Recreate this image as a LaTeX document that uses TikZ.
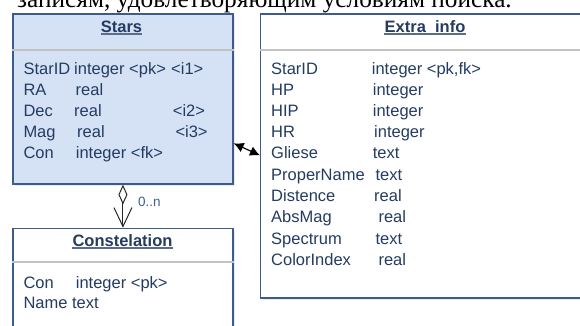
\documentclass[tikz,border=0pt]{standalone}
\usepackage{fontspec}
\setmainfont{Liberation Sans}
\newfontfamily\rufont{Liberation Serif}
\usetikzlibrary{arrows.meta,shadows}
\definecolor{textcol}{RGB}{36,60,98}
\definecolor{bordercol}{RGB}{60,92,138}
\definecolor{starfill}{RGB}{213,226,245}
\definecolor{multcol}{RGB}{60,96,148}
\newcommand\fieldfont{\fontsize{16.5}{20}\selectfont}
\newcommand\titlefont{\fontsize{16.5}{20}\selectfont\bfseries}
\tikzset{
  umlbox/.style={draw=bordercol, line width=1.3pt, rectangle, inner sep=0pt,
    anchor=north west, drop shadow={shadow xshift=2.5pt, shadow yshift=-2.5pt, fill=black!16}},
  fld/.style={anchor=base west, inner sep=0pt, text=textcol, font=\fieldfont},
  ttl/.style={anchor=base, inner sep=0pt, text=textcol, font=\titlefont},
  uline/.style={draw=textcol!75, line width=1.3pt},
  sepline/.style={draw=black!24, line width=2.2pt},
  agg/.style={draw=black!85, line width=1pt,
    {Diamond[open,length=20pt,width=9pt]}-{Straight Barb[length=19pt,width=18pt]}},
  assoc/.style={draw=black, line width=1.2pt,
    {Latex[length=10pt,width=10pt]}-{Latex[length=10pt,width=10pt]}},
  mult/.style={anchor=base west, inner sep=0pt, text=multcol, font=\fontsize{13.5}{16}\selectfont},
}
\begin{document}
\begin{tikzpicture}[x=1pt,y=-1pt]
\useasboundingbox (0,0) rectangle (580,325);
\clip (0,0) rectangle (580,325);
% top cut line of text
\node[anchor=base west, inner sep=0pt, font=\rufont\fontsize{25.3}{30}\selectfont] (toptext) at (17,7.5) {записям, удовлетворяющим условиям поиска.};

% boxes
\node[umlbox, fill=starfill, minimum width=220pt, minimum height=170pt] (stars) at (12.3,13.3) {};
\node[umlbox, fill=white, minimum width=330pt, minimum height=284pt] (extra) at (260,13.3) {};
\node[umlbox, fill=white, minimum width=220pt, minimum height=130pt] (const) at (12.3,227.7) {};

% header separators
\draw[sepline] ([yshift=-36.7pt]stars.north west) -- ([yshift=-36.7pt]stars.north east);
\draw[sepline] ([yshift=-36.7pt]extra.north west) -- ([yshift=-36.7pt]extra.north east);
\draw[sepline] ([yshift=-34pt]const.north west) -- ([yshift=-34pt]const.north east);

% titles
\node[ttl] (tstars) at (121.5,32) {Stars};
\draw[uline] ([yshift=-2pt]tstars.base west) -- ([yshift=-2pt]tstars.base east);
\node[ttl] (textra) at (425,32) {Extra\_info};
\draw[uline] ([yshift=-2pt]textra.base west) -- ([yshift=-2pt]textra.base east);
\node[ttl] (tconst) at (122.5,246) {Constelation};
\draw[uline] ([yshift=-2pt]tconst.base west) -- ([yshift=-2pt]tconst.base east);

% Stars fields
\node[fld] (s1a) at (23.3,74) {StarID};
\node[fld] (s1b) at (74,74) {integer <pk>};
\node[fld] (s1c) at (171,74) {<i1>};
\node[fld] (s2a) at (23.3,95) {RA};
\node[fld] (s2b) at (75.5,95) {real};
\node[fld] (s3a) at (23.3,116) {Dec};
\node[fld] (s3b) at (74,116) {real};
\node[fld] (s3c) at (172.7,116) {<i2>};
\node[fld] (s4a) at (23.3,137) {Mag};
\node[fld] (s4b) at (77,137) {real};
\node[fld] (s4c) at (175.3,137) {<i3>};
\node[fld] (s5a) at (23.3,158.5) {Con};
\node[fld] (s5b) at (75.7,158.5) {integer <fk>};

% Extra_info fields
\node[fld] (e1a) at (271,74) {StarID};
\node[fld] (e1b) at (371.7,74) {integer <pk,fk>};
\node[fld] (e2a) at (271,95) {HP};
\node[fld] (e2b) at (372.7,95) {integer};
\node[fld] (e3a) at (271,116) {HIP};
\node[fld] (e3b) at (372.7,116) {integer};
\node[fld] (e4a) at (271,137) {HR};
\node[fld] (e4b) at (374,137) {integer};
\node[fld] (e5a) at (271,158.5) {Gliese};
\node[fld] (e5b) at (372.7,158.5) {text};
\node[fld] (e6a) at (271,180) {ProperName};
\node[fld] (e6b) at (375.3,180) {text};
\node[fld] (e7a) at (271,201.5) {Distence};
\node[fld] (e7b) at (374,201.5) {real};
\node[fld] (e8a) at (271,222.5) {AbsMag};
\node[fld] (e8b) at (378.3,222.5) {real};
\node[fld] (e9a) at (271,244) {Spectrum};
\node[fld] (e9b) at (375.3,244) {text};
\node[fld] (e10a) at (271,265.5) {ColorIndex};
\node[fld] (e10b) at (378.3,265.5) {real};

% Constelation fields
\node[fld] (c1a) at (23.3,288) {Con};
\node[fld] (c1b) at (75.7,288) {integer <pk>};
\node[fld] (c2a) at (23.3,308.5) {Name text};

% connectors
\draw[agg] (stars.south) -- (const.north);
\node[mult] (mlabel) at (138,206) {0..n};
\draw[assoc] ([yshift=-130pt]stars.north east) -- ([yshift=-142pt]extra.north west);
\end{tikzpicture}
\end{document}
